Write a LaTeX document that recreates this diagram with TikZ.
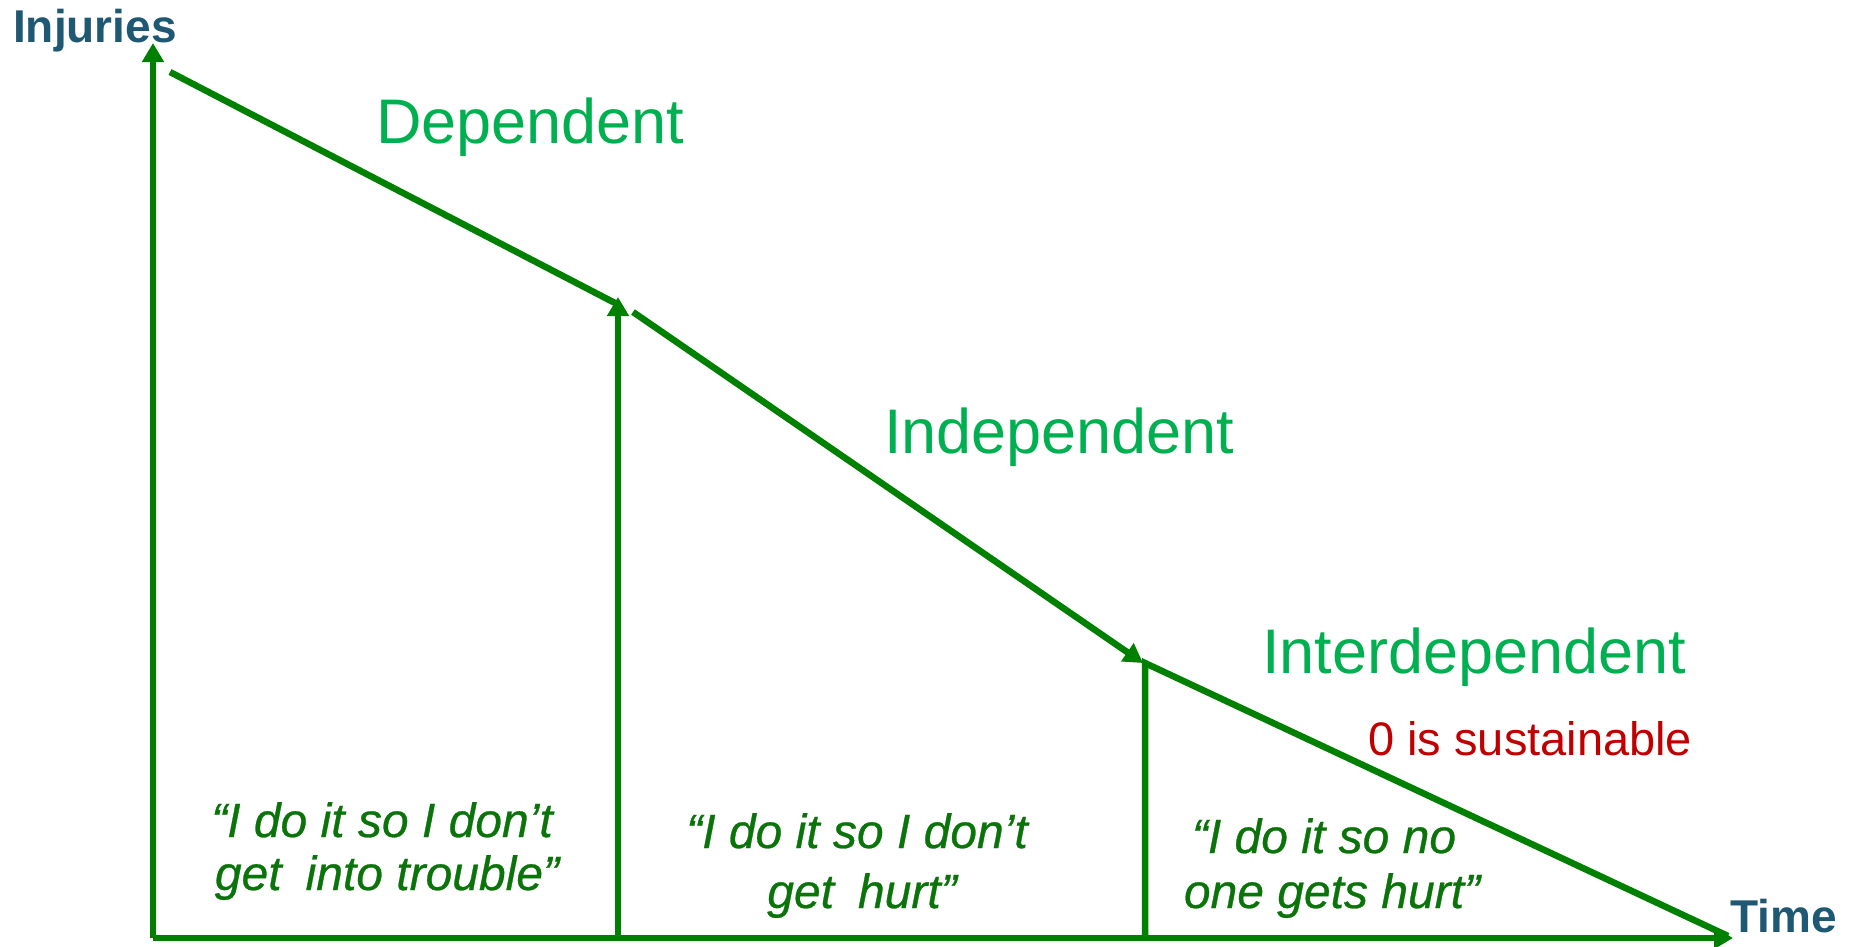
\documentclass[tikz,border=0pt]{standalone}
\usepackage{fontspec}
\setmainfont{Liberation Sans}
\newfontfamily\quotefont[FakeBold=0.6]{Liberation Sans Italic}
\usetikzlibrary{arrows.meta}
\definecolor{linegreen}{RGB}{0,128,0}
\definecolor{labelgreen}{RGB}{0,176,80}
\definecolor{quotegreen}{RGB}{10,115,10}
\definecolor{axisblue}{RGB}{31,88,114}
\definecolor{redtext}{RGB}{192,0,0}
\tikzset{
  gline/.style={draw=linegreen, line width=6.5pt, line cap=butt},
  gtip/.style={-{Triangle[length=19pt,width=21pt]}},
  stagelabel/.style={text=labelgreen, anchor=base west, inner sep=0pt, font=\fontsize{63}{70}\selectfont},
  quotetext/.style={text=quotegreen, anchor=base, inner sep=0pt, font=\fontsize{48}{54}\quotefont},
  axislabel/.style={text=axisblue, anchor=base west, inner sep=0pt, font=\fontsize{46}{52}\selectfont\bfseries},
}
\begin{document}
\begin{tikzpicture}[x=1pt,y=-1pt]
\useasboundingbox (0,0) rectangle (1857,946);
% key points
\coordinate (O) at (153,938);
\coordinate (ytip) at (153,43);
\coordinate (xtip) at (1733,938);
\coordinate (s1a) at (170,72);
\coordinate (s1b) at (615,303);
\coordinate (v2b) at (618,938);
\coordinate (v2t) at (618,297);
\coordinate (s2a) at (633,312);
\coordinate (s2b) at (1143,663);
\coordinate (v3b) at (1145,938);
\coordinate (v3t) at (1145,663);
\coordinate (s3b) at (1728,936);
% axes
\draw[gline, gtip] (O) -- (ytip);
\draw[gline, gtip] (O) -- (xtip);
% steps
\draw[gline] (s1a) -- (s1b);
\draw[gline, gtip] (v2b) -- (v2t);
\draw[gline, gtip] (s2a) -- (s2b);
\draw[gline] (v3b) -- (v3t) -- (s3b);
% axis labels
\node[axislabel] (inj) at (13,42) {Injuries};
\node[axislabel] (time) at (1730,932) {Time};
% stage labels
\node[stagelabel] (dep) at (376,143) {Dependent};
\node[stagelabel] (indep) at (884,453) {Independent};
\node[stagelabel] (inter) at (1262,673) {Interdependent};
\node[text=redtext, anchor=base west, inner sep=0pt, font=\fontsize{47}{52}\selectfont] (zero) at (1368,755) {0 is sustainable};
% quotes
\node[quotetext] (q1a) at (382,837) {“I do it so I don’t};
\node[quotetext] (q1b) at (387,890) {get\hspace{0.5em}into trouble”};
\node[quotetext] (q2a) at (857,848) {“I do it so I don’t};
\node[quotetext] (q2b) at (862,908) {get\hspace{0.5em}hurt”};
\node[quotetext] (q3a) at (1324,853) {“I do it so no};
\node[quotetext] (q3b) at (1332,908) {one gets hurt”};
\end{tikzpicture}
\end{document}
